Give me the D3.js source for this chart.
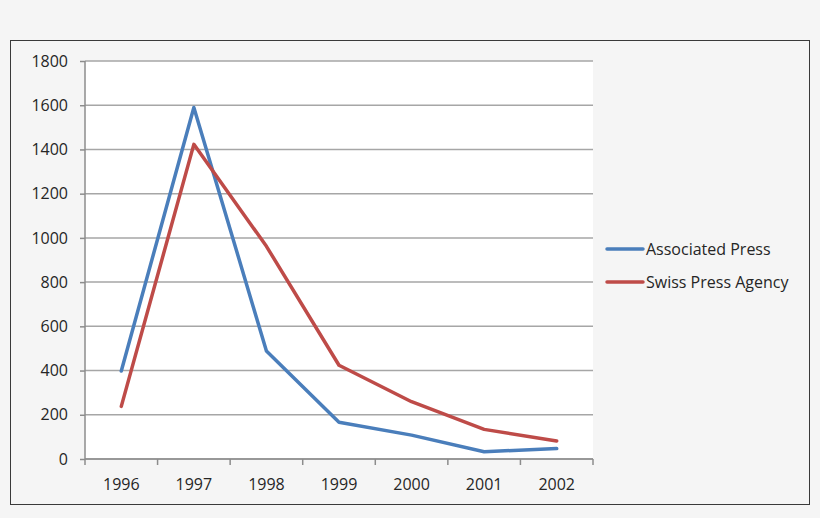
<!DOCTYPE html>
<html>
<head>
<meta charset="utf-8">
<script src="https://cdn.jsdelivr.net/npm/d3@7"></script>
<style>
  html, body { margin: 0; padding: 0; background: #f5f5f5; }
  svg { display: block; }
</style>
</head>
<body>
<div id="chart"></div>
<script>
// data
var years = ["1996", "1997", "1998", "1999", "2000", "2001", "2002"];
var associatedPress = [398, 1590, 488, 166, 108, 33, 47];
var swissPressAgency = [238, 1423, 962, 424, 259, 134, 81];
var seriesNames = ["Associated Press", "Swiss Press Agency"];
var seriesColors = ["#4a7ebb", "#be4b48"];
var yTicks = [0, 200, 400, 600, 800, 1000, 1200, 1400, 1600, 1800];

var width = 820, height = 518;
var plot = { left: 85, top: 61, right: 593, bottom: 459 };
var font = "'Open Sans', 'Liberation Sans', sans-serif";
var fontSize = "16px";

var svg = d3.select("#chart").append("svg")
    .attr("width", width)
    .attr("height", height);

// outer frame
svg.append("rect")
    .attr("x", 10.5).attr("y", 40.5)
    .attr("width", 799).attr("height", 464)
    .attr("fill", "#f5f5f5")
    .attr("stroke", "#3a3a3a")
    .attr("stroke-width", 1);

// plot area
svg.append("rect")
    .attr("x", plot.left).attr("y", plot.top)
    .attr("width", plot.right - plot.left).attr("height", plot.bottom - plot.top)
    .attr("fill", "#ffffff");

var x = d3.scaleBand()
    .domain(years)
    .range([plot.left, plot.right]);

var y = d3.scaleLinear()
    .domain([0, 1800])
    .range([plot.bottom, plot.top]);

// horizontal gridlines
svg.append("g")
    .selectAll("line")
    .data(yTicks)
    .enter().append("line")
    .attr("x1", plot.left).attr("x2", plot.right)
    .attr("y1", function (d) { return y(d); })
    .attr("y2", function (d) { return y(d); })
    .attr("stroke", "#a6a6a6")
    .attr("stroke-width", 1.5);

// y axis
var yAxis = svg.append("g")
    .attr("transform", "translate(" + plot.left + ",0)")
    .call(d3.axisLeft(y).tickValues(yTicks).tickFormat(d3.format("d")).tickSize(5).tickPadding(12));
yAxis.select(".domain").attr("stroke", "#8c8c8c").attr("stroke-width", 1.5)
    .attr("d", "M0," + plot.top + "V" + plot.bottom);
yAxis.selectAll(".tick line").attr("stroke", "#8c8c8c").attr("stroke-width", 1.5);
yAxis.selectAll(".tick text")
    .attr("font-family", font).attr("font-size", fontSize).attr("fill", "#262626");

// x axis: ticks sit on the category boundaries
var xAxis = svg.append("g")
    .attr("transform", "translate(0," + plot.bottom + ")")
    .call(d3.axisBottom(x).tickSize(0).tickPadding(20));
xAxis.select(".domain").attr("stroke", "#8c8c8c").attr("stroke-width", 1.5)
    .attr("d", "M" + plot.left + ",0H" + plot.right);
xAxis.selectAll(".tick text")
    .attr("font-family", font).attr("font-size", fontSize).attr("fill", "#262626");
xAxis.selectAll(".boundary")
    .data(years.concat(["end"]))
    .enter().append("line")
    .attr("class", "boundary")
    .attr("x1", function (d, i) { return plot.left + i * x.step(); })
    .attr("x2", function (d, i) { return plot.left + i * x.step(); })
    .attr("y1", 0).attr("y2", 6)
    .attr("stroke", "#8c8c8c").attr("stroke-width", 1.5);

// lines
var series = [associatedPress, swissPressAgency];
var line = d3.line()
    .x(function (d, i) { return x(years[i]) + x.bandwidth() / 2; })
    .y(function (d) { return y(d); });

svg.append("g")
    .selectAll("path")
    .data(series)
    .enter().append("path")
    .attr("d", line)
    .attr("fill", "none")
    .attr("stroke", function (d, i) { return seriesColors[i]; })
    .attr("stroke-width", 3.5)
    .attr("stroke-linejoin", "round")
    .attr("stroke-linecap", "round");

// legend
var legend = svg.append("g")
    .selectAll("g")
    .data(seriesNames)
    .enter().append("g")
    .attr("transform", function (d, i) { return "translate(607," + (249 + i * 33) + ")"; });
legend.append("line")
    .attr("x1", 0).attr("x2", 36)
    .attr("stroke", function (d, i) { return seriesColors[i]; })
    .attr("stroke-width", 3.5)
    .attr("stroke-linecap", "round");
legend.append("text")
    .attr("x", 39).attr("dy", "0.35em")
    .attr("font-family", font).attr("font-size", fontSize).attr("fill", "#262626")
    .text(function (d) { return d; });
</script>
</body>
</html>
